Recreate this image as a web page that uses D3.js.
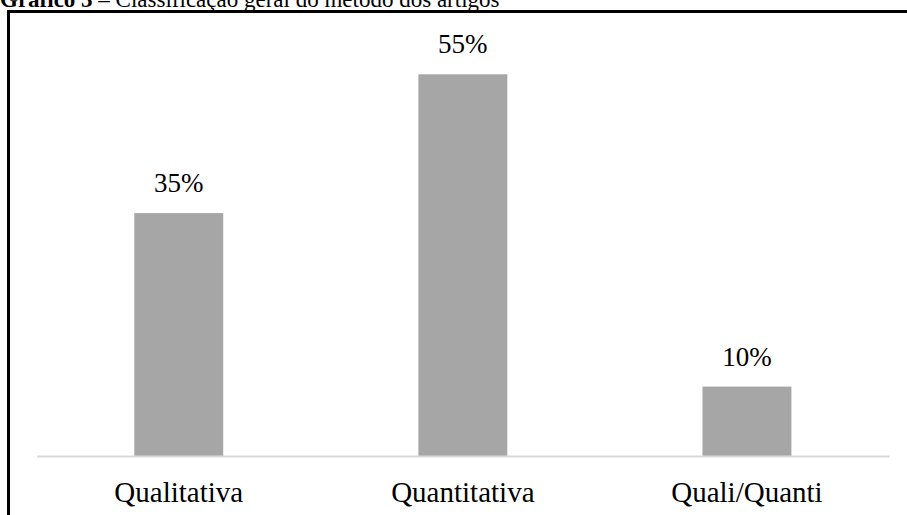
<!DOCTYPE html>
<html>
<head>
<meta charset="utf-8">
<script src="https://cdn.jsdelivr.net/npm/d3@7/dist/d3.min.js"></script>
<style>
  html, body { margin: 0; padding: 0; background: #fff; overflow: hidden; }
  text { font-family: "Liberation Serif", "Times New Roman", serif; fill: #000; }
</style>
</head>
<body>
<div id="chart"></div>
<script>
// data
const categories = ["Qualitativa", "Quantitativa", "Quali/Quanti"];
const values = [35, 55, 10];
const valueLabels = ["35%", "55%", "10%"];

const width = 907;
const height = 515;

const svg = d3.select("#chart").append("svg")
    .attr("width", width)
    .attr("height", height);

// title, cut off at the top like the source
const title = svg.append("text")
    .attr("x", 0)
    .attr("y", 7)
    .style("font-size", "23px");
title.append("tspan").style("font-weight", "bold").text("Gráfico 3");
title.append("tspan").text(" – Classificação geral do método dos artigos");

// frame round the chart
svg.append("rect")
    .attr("x", 8.5)
    .attr("y", 11.5)
    .attr("width", 1000)
    .attr("height", 600)
    .attr("fill", "none")
    .attr("stroke", "#000")
    .attr("stroke-width", 3);

const x = d3.scaleBand()
    .domain(categories)
    .range([36.7, 889])
    .paddingInner(0.687)
    .paddingOuter(0.3435);

const y = d3.scaleLinear()
    .domain([0, 60])
    .range([456, 39.6]);

const data = categories.map(function (c, i) {
    return { cat: c, value: values[i], label: valueLabels[i] };
});

svg.append("g")
    .selectAll("rect")
    .data(data)
    .enter().append("rect")
    .attr("x", function (d) { return x(d.cat); })
    .attr("y", function (d) { return y(d.value); })
    .attr("width", x.bandwidth())
    .attr("height", function (d) { return y(0) - y(d.value); })
    .attr("fill", "#a6a6a6");

// baseline
const xAxis = svg.append("g")
    .attr("transform", "translate(0," + y(0) + ")")
    .call(d3.axisBottom(x).tickSize(0).tickPadding(0));
xAxis.select(".domain")
    .attr("stroke", "#d9d9d9")
    .attr("stroke-width", 2);
xAxis.selectAll(".tick text")
    .attr("dy", 0)
    .attr("y", 46)
    .style("font-family", "'Liberation Serif', 'Times New Roman', serif")
    .style("font-size", "29px")
    .attr("fill", "#000");

// value labels
svg.append("g")
    .selectAll("text")
    .data(data)
    .enter().append("text")
    .attr("x", function (d) { return x(d.cat) + x.bandwidth() / 2; })
    .attr("y", function (d) { return y(d.value) - 21; })
    .attr("text-anchor", "middle")
    .style("font-size", "27px")
    .text(function (d) { return d.label; });
</script>
</body>
</html>
